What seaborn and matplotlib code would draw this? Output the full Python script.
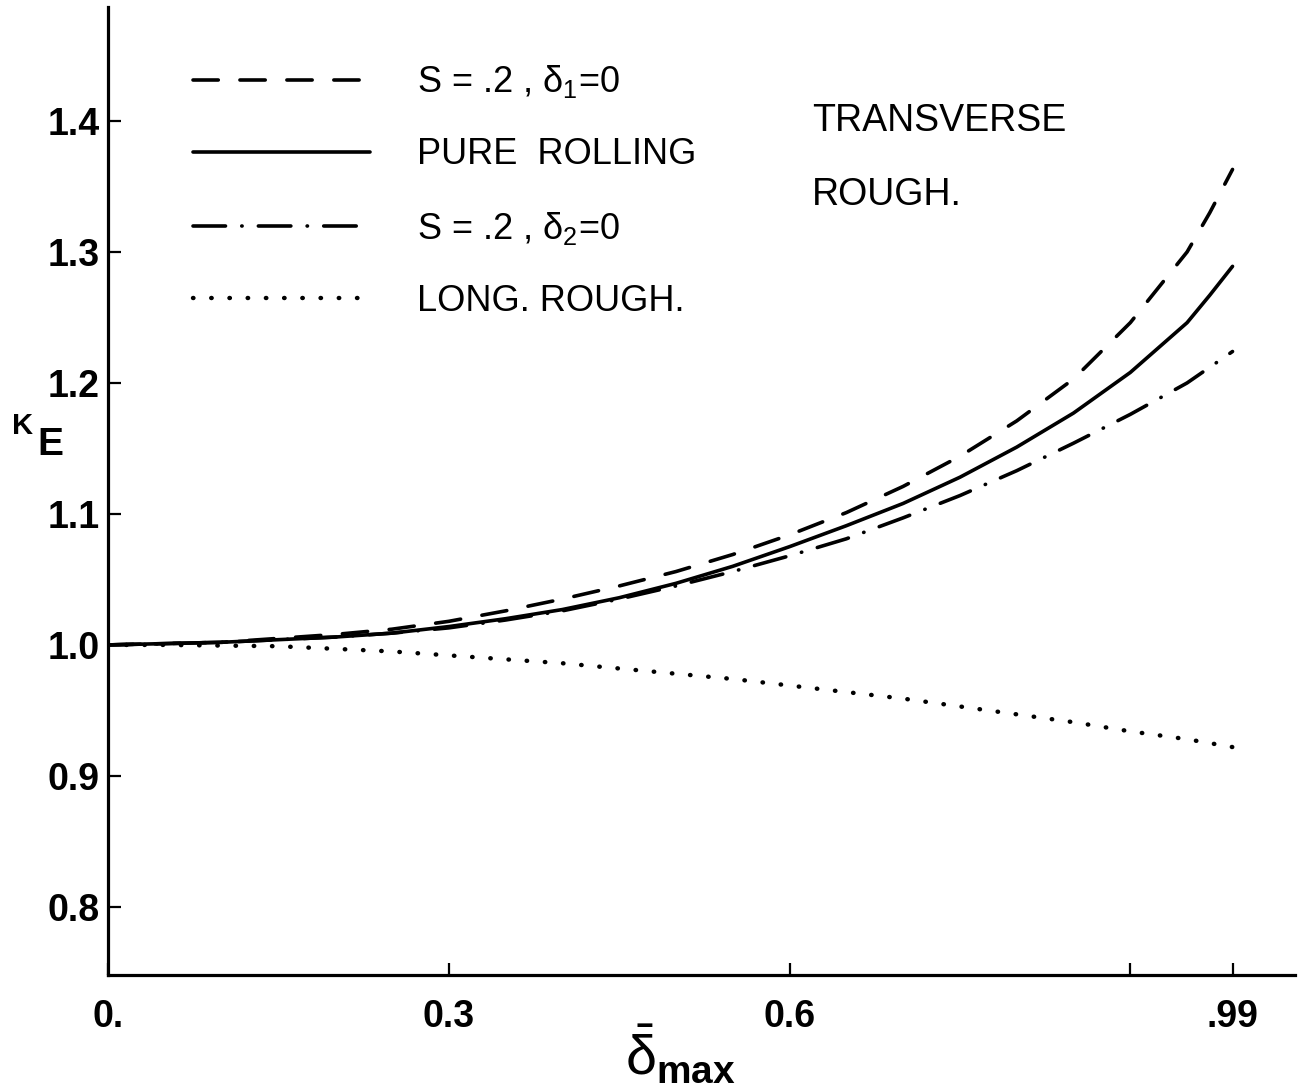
import numpy as np
import pandas as pd
import matplotlib
matplotlib.use("Agg")
import matplotlib.pyplot as plt
import seaborn as sns

# ---- data ----
x_vals = [0.0, 0.05, 0.1, 0.15, 0.2, 0.25, 0.3, 0.35, 0.4, 0.45, 0.5,
          0.55, 0.6, 0.65, 0.7, 0.75, 0.8, 0.85, 0.9, 0.95, 0.97, 0.99]
k_s_delta1 = [1.000, 1.001, 1.002, 1.005, 1.008, 1.012, 1.018, 1.026, 1.035, 1.045, 1.056,
              1.069, 1.084, 1.101, 1.121, 1.144, 1.171, 1.203, 1.246, 1.300, 1.330, 1.363]
k_pure = [1.000, 1.001, 1.002, 1.004, 1.006, 1.009, 1.014, 1.020, 1.027, 1.036, 1.047,
          1.060, 1.075, 1.091, 1.108, 1.128, 1.151, 1.177, 1.208, 1.246, 1.267, 1.289]
k_s_delta2 = [1.000, 1.001, 1.002, 1.004, 1.006, 1.009, 1.013, 1.019, 1.026, 1.035, 1.045,
              1.056, 1.068, 1.081, 1.097, 1.114, 1.133, 1.154, 1.176, 1.200, 1.212, 1.224]
k_long = [1.000, 1.000, 0.9995, 0.999, 0.997, 0.995, 0.992, 0.989, 0.986, 0.982, 0.978,
          0.974, 0.969, 0.964, 0.959, 0.953, 0.947, 0.941, 0.934, 0.928, 0.925, 0.922]

series_keys = ["s1", "pure", "s2", "long"]
series_labels = [r"S = .2 , δ$_1$=0", "PURE  ROLLING", r"S = .2 , δ$_2$=0", "LONG. ROUGH."]
x_ticks = [0.0, 0.3, 0.6, 0.9, 0.99]
x_tick_labels = ["0.", "0.3", "0.6", "", ".99"]
y_ticks = [0.8, 0.9, 1.0, 1.1, 1.2, 1.3, 1.4]
y_tick_labels = ["0.8", "0.9", "1.0", "1.1", "1.2", "1.3", "1.4"]

df = pd.concat([
    pd.DataFrame({"x": x_vals, "K": vals, "series": key})
    for key, vals in zip(series_keys, [k_s_delta1, k_pure, k_s_delta2, k_long])
], ignore_index=True)

sns.set_theme(style="white")
plt.rcParams["font.family"] = ["Liberation Sans", "DejaVu Sans"]
plt.rcParams["mathtext.fontset"] = "custom"
plt.rcParams["mathtext.rm"] = "Liberation Sans"
plt.rcParams["mathtext.it"] = "Liberation Sans"
plt.rcParams["mathtext.bf"] = "Liberation Sans:bold"
for key in ["text.color", "axes.labelcolor", "xtick.color", "ytick.color"]:
    plt.rcParams[key] = "black"

fig = plt.figure(figsize=(13, 10.9), dpi=100)
ax = fig.add_axes([108 / 1300, 115 / 1090, 1187 / 1300, 968 / 1090])

dash_map = {"s1": (7, 6), "pure": "", "s2": (9, 4.5, 0.1, 4.5), "long": (0.1, 4.0)}
sns.lineplot(data=df, x="x", y="K", hue="series", style="series",
             hue_order=series_keys, style_order=series_keys,
             palette={k: "black" for k in series_keys}, dashes=dash_map,
             linewidth=2.6, legend=False, ax=ax, estimator=None, sort=False)

for ln in ax.get_lines():
    ln.set_dash_capstyle("round")
    ln.set_solid_capstyle("round")
    ln.set_solid_joinstyle("round")
    ln.set_dash_joinstyle("round")
ax.get_lines()[3].set_linewidth(3.2)

ax.set_xlim(0, 1.045)
ax.set_ylim(0.748, 1.487)
ax.set_xticks(x_ticks)
ax.set_xticklabels(x_tick_labels, fontsize=27, fontweight="bold")
ax.set_yticks(y_ticks)
ax.set_yticklabels(y_tick_labels, fontsize=27, fontweight="bold")
ax.tick_params(axis="both", direction="in", length=9, width=1.6, color="black")
ax.tick_params(axis="x", pad=17, bottom=True)
ax.tick_params(axis="y", pad=6, left=True)
for side in ["top", "right"]:
    ax.spines[side].set_visible(False)
for side in ["left", "bottom"]:
    ax.spines[side].set_color("black")
    ax.spines[side].set_linewidth(2.3)
ax.set_xlabel("")
ax.set_ylabel("")

handles = ax.get_lines()[:4]
leg = ax.legend(handles, series_labels, loc="upper left",
                bbox_to_anchor=(0.072, 0.942), frameon=False,
                fontsize=26, handlelength=4.9, handletextpad=1.3,
                labelspacing=1.03, borderpad=0, borderaxespad=0)

ax.text(0.593, 0.882, "TRANSVERSE", transform=ax.transAxes, fontsize=27,
        ha="left", va="center")
ax.text(0.593, 0.806, "ROUGH.", transform=ax.transAxes, fontsize=27,
        ha="left", va="center")

fig.text(680 / 1300, 1 - 1055 / 1090, r"$\bar{\delta}_{\mathbf{max}}$",
         fontsize=40, ha="center", va="center", fontweight="bold")
fig.text(23 / 1300, 1 - 426 / 1090, "K", fontsize=21, fontweight="bold",
         ha="center", va="center")
fig.text(50 / 1300, 1 - 445 / 1090, "E", fontsize=28, fontweight="bold",
         ha="center", va="center")

fig.savefig("out.png", dpi=100, facecolor="white")
